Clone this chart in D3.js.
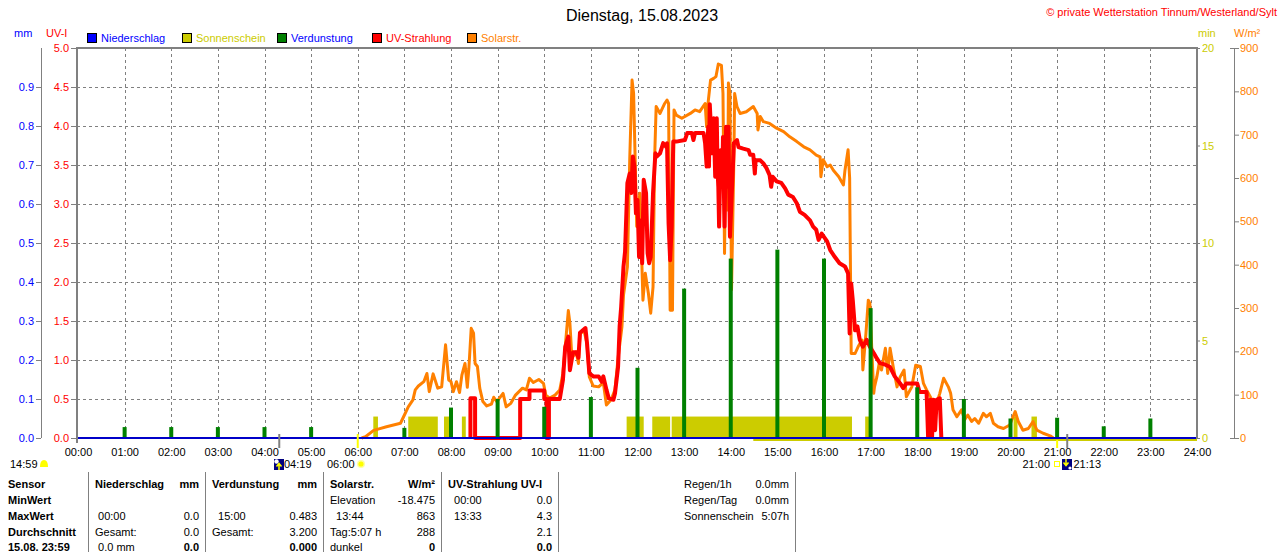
<!DOCTYPE html>
<html>
<head>
<meta charset="utf-8">
<script src="https://cdn.jsdelivr.net/npm/d3@7"></script>
<style>
  body { margin: 0; background: #fff; }
  svg text { font-family: "Liberation Sans", Arial, sans-serif; font-size: 11px; }
</style>
</head>
<body>
<svg id="chart" width="1280" height="552"></svg>
<script>
/* ---- data ---- */
const hourLabels = d3.range(0, 25).map((h) => String(h).padStart(2, "0") + ":00");
const uvTicks = [0, 0.5, 1, 1.5, 2, 2.5, 3, 3.5, 4, 4.5, 5];
const mmTicks = [0, 0.1, 0.2, 0.3, 0.4, 0.5, 0.6, 0.7, 0.8, 0.9];
const minTicks = [0, 5, 10, 15, 20];
const wTicks = [0, 100, 200, 300, 400, 500, 600, 700, 800, 900];

const legendLabels = ["Niederschlag", "Sonnenschein", "Verdunstung", "UV-Strahlung", "Solarstr."];
const legendColors = ["#0000ff", "#cccc00", "#008000", "#ff0000", "#ff8000"];
const legendTextColors = ["#0000ff", "#cccc00", "#0000ff", "#ff0000", "#ff8000"];

// Solarstrahlung W/m²
const solarTimes = ["06:05","06:10","06:20","06:25","06:37","06:55","06:59","07:05","07:11","07:14","07:18","07:25","07:29","07:32","07:37","07:43","07:48","07:53","07:57","08:00","08:03","08:07","08:11","08:14","08:18","08:21","08:23","08:26","08:29","08:31","08:34","08:37","08:41","08:46","08:52","08:55","08:59","09:07","09:11","09:17","09:23","09:32","09:37","09:41","09:46","09:53","09:59","10:02","10:07","10:14","10:20","10:24","10:27","10:31","10:33","10:35","10:37","10:41","10:44","10:46","10:51","10:55","10:58","11:03","11:10","11:16","11:20","11:26","11:31","11:35","11:40","11:42","11:47","11:50","11:53","11:55","11:57","11:59","12:03","12:07","12:10","12:14","12:17","12:20","12:22","12:24","12:29","12:35","12:38","12:40","12:42","12:45","12:47","12:50","12:57","13:08","13:14","13:20","13:27","13:29","13:31","13:34","13:38","13:41","13:44","13:48","13:50","13:52","13:54","13:56","13:57","13:59","14:01","14:04","14:05","14:08","14:12","14:20","14:29","14:34","14:35","14:38","14:42","14:50","14:59","15:08","15:16","15:25","15:34","15:42","15:50","15:55","15:56","15:59","16:04","16:08","16:12","16:19","16:25","16:27","16:31","16:33","16:34","16:35","16:40","16:44","16:49","16:50","16:54","16:57","16:59","17:01","17:04","17:05","17:08","17:11","17:14","17:19","17:22","17:25","17:29","17:34","17:38","17:43","17:46","17:53","17:58","18:04","18:08","18:12","18:19","18:25","18:29","18:34","18:40","18:43","18:46","18:51","18:57","19:01","19:05","19:10","19:14","19:19","19:25","19:29","19:34","19:38","19:44","19:51","19:59","20:06","20:10","20:16","20:23","20:29","20:34","20:42","20:51","20:55"];
const solarValues = [0,3,17,20,26,34,49,72,88,111,120,130,149,107,148,115,118,215,134,130,107,130,105,145,172,117,161,253,242,172,165,115,84,74,78,94,84,103,72,80,99,115,111,138,128,135,126,99,92,99,111,149,211,294,265,203,188,199,172,240,249,218,141,120,118,128,76,88,111,184,257,330,395,642,826,795,642,488,565,318,380,334,288,349,642,765,749,772,780,772,295,295,757,745,738,749,757,753,772,718,776,826,830,834,863,860,795,426,718,526,819,795,342,642,795,765,749,753,765,749,711,742,730,726,715,707,695,684,672,665,653,649,603,642,626,630,618,603,584,618,665,600,400,195,195,211,226,157,242,318,311,226,103,118,141,172,157,207,149,207,165,118,141,157,95,118,168,165,126,111,88,80,103,138,118,103,65,49,65,42,53,38,45,34,57,49,57,34,26,22,30,61,38,18,22,38,18,11,5,0];

// UV-Strahlung UV-I
const uvTimes = ["08:25","08:25","08:31","08:31","09:29","09:29","09:41","09:41","10:00","10:00","10:03","10:03","10:06","10:06","10:20","10:24","10:27","10:31","10:33","10:37","10:41","10:44","10:46","10:53","10:55","10:58","11:03","11:10","11:14","11:16","11:20","11:23","11:29","11:31","11:35","11:37","11:39","11:42","11:44","11:47","11:50","11:52","11:54","11:56","11:58","12:00","12:02","12:04","12:06","12:08","12:11","12:13","12:15","12:17","12:20","12:23","12:25","12:29","12:33","12:37","12:38","12:40","12:42","12:44","12:46","12:50","13:01","13:04","13:10","13:12","13:14","13:25","13:27","13:29","13:31","13:32","13:33","13:36","13:38","13:40","13:42","13:43","13:44","13:45","13:47","13:49","13:50","13:52","13:54","13:56","13:57","13:59","14:01","14:04","14:06","14:08","14:10","14:16","14:23","14:25","14:29","14:31","14:32","14:38","14:42","14:46","14:50","14:52","14:54","14:59","15:05","15:10","15:14","15:20","15:25","15:29","15:35","15:42","15:46","15:50","15:53","15:57","16:04","16:08","16:14","16:20","16:27","16:31","16:33","16:35","16:37","16:40","16:43","16:46","16:50","16:55","16:59","17:04","17:08","17:12","17:19","17:25","17:31","17:38","17:42","17:46","18:00","18:03","18:12","18:14","18:17","18:19","18:21","18:23","18:25","18:29","18:31"];
const uvValues = [0,0.51,0.51,0,0,0.5,0.5,0.61,0.61,0.5,0.5,0,0,0.5,0.5,0.74,1.17,1.3,0.87,1.1,1.1,1.03,1.35,1.41,1.22,0.83,0.79,0.79,0.72,0.79,0.62,0.51,0.49,0.57,0.91,1.43,1.68,2.2,2.39,3.27,3.39,3.14,3.61,3.48,2.88,3.05,2.32,2.79,2.24,3.31,3.14,2.37,2.24,2.32,3.14,3.65,3.61,3.65,3.78,3.73,3.78,2.75,2.28,2.71,3.8,3.8,3.82,3.91,3.91,3.82,3.91,3.91,3.78,3.48,3.99,3.48,4.28,3.65,4.1,3.35,4.1,3.44,3.22,2.71,3.69,3.22,3.86,2.71,3.99,3.22,3.99,2.58,3.05,3.78,3.8,3.82,3.73,3.71,3.69,3.63,3.63,3.39,3.56,3.56,3.52,3.46,3.37,3.22,3.35,3.29,3.27,3.2,3.12,3.09,3.01,2.9,2.86,2.79,2.71,2.67,2.54,2.62,2.52,2.41,2.32,2.24,2.2,2.11,1.34,1.98,1.77,1.38,1.43,1.26,1.17,1.26,1.17,1.09,1.02,0.96,0.94,0.91,0.79,0.7,0.64,0.7,0.7,0.59,0.59,0,0.49,0,0.49,0.1,0.49,0.51,0];

// Verdunstung mm (hourly)
const evapHours = [1,2,3,4,5,6,7,8,9,10,11,12,13,14,15,16,17,18,19,20,21,22,23];
const evapValues = [0.028,0.028,0.028,0.028,0.028,0,0.026,0.078,0.1,0.08,0.105,0.18,0.383,0.46,0.483,0.46,0.333,0.13,0.1,0.05,0.052,0.03,0.05];

// Niederschlag mm (hourly)
const rainHours = d3.range(0, 25);
const rainValues = d3.range(0, 25).map(() => 0);

// Sonnenschein min
const sunFrom = ["06:20","07:05","07:51","08:14","11:46","12:19","12:44","16:53","20:04","20:27"];
const sunTo   = ["06:26","07:43","07:58","08:19","12:08","12:42","16:36","16:58","20:09","20:34"];
const sunMinutes = [1.1,1.1,1.1,1.1,1.1,1.1,1.1,1.1,1.1,1.1];
const sunLineFrom = "14:29";

// Sonnen-/Mondauf- und untergang
const astroTimes = ["04:19", "06:00", "21:00", "21:13"];
const astroColors = ["#808080", "#ffff00", "#ffff00", "#808080"];

// Tabelle
const tableRowLabels = ["Sensor", "MinWert", "MaxWert", "Durchschnitt", "15.08. 23:59"];
const tableHeads = ["Niederschlag", "Verdunstung", "Solarstr.", "UV-Strahlung UV-I"];
const tableUnits = ["mm", "mm", "W/m²", ""];
const tableLeft = [
  ["", " 00:00", "Gesamt:", " 0.0 mm"],
  ["", "  15:00", "Gesamt:", ""],
  ["Elevation", "  13:44", "Tag:5:07 h", "dunkel"],
  ["  00:00", "  13:33", "", ""]
];
const tableRight = [
  ["", "0.0", "0.0", "0.0"],
  ["", "0.483", "3.200", "0.000"],
  ["-18.475", "863", "288", "0"],
  ["0.0", "4.3", "2.1", "0.0"]
];
const infoLabels = ["Regen/1h", "Regen/Tag", "Sonnenschein"];
const infoValues = ["0.0mm", "0.0mm", "5:07h"];

/* ---- setup ---- */
const parseT = (s) => { const [h, m] = s.split(":").map(Number); return h + m / 60; };
const margin = { top: 48, left: 77, right: 83, bottom: 114 };
const width = 1280, height = 552;
const plotTop = margin.top, plotBottom = height - margin.bottom;
const plotLeft = margin.left, plotRight = width - margin.right;

const svg = d3.select("#chart");

const x = d3.scaleLinear().domain([0, 24]).range([plotLeft + 1, plotRight]);
const yUV = d3.scaleLinear().domain([0, 5]).range([plotBottom, plotTop]);
const yMM = d3.scaleLinear().domain([0, 1]).range([plotBottom, plotTop]);
const yMin = d3.scaleLinear().domain([0, 20]).range([plotBottom, plotTop]);
const yW = d3.scaleLinear().domain([0, 900]).range([plotBottom, plotTop]);

const grey = "#808080";

/* grid */
const grid = svg.append("g").attr("stroke", grey).attr("stroke-dasharray", "3,3").attr("shape-rendering", "crispEdges");
grid.selectAll(".h").data(uvTicks.slice(1, -1)).enter().append("line")
  .attr("x1", plotLeft).attr("x2", plotRight)
  .attr("y1", (d) => Math.round(yUV(d)) + 0.5).attr("y2", (d) => Math.round(yUV(d)) + 0.5);
grid.selectAll(".v").data(d3.range(1, 24)).enter().append("line")
  .attr("x1", (d) => Math.round(x(d)) + 0.5).attr("x2", (d) => Math.round(x(d)) + 0.5)
  .attr("y1", plotTop).attr("y2", plotBottom);

/* Sonnenschein */
svg.append("g").selectAll("rect").data(sunFrom).enter().append("rect")
  .attr("x", (d) => x(parseT(d)))
  .attr("width", (d, i) => x(parseT(sunTo[i])) - x(parseT(d)))
  .attr("y", (d, i) => yMin(sunMinutes[i]))
  .attr("height", (d, i) => yMin(0) - yMin(sunMinutes[i]))
  .attr("fill", "#cccc00");

/* Solarstrahlung */
const solarData = solarTimes.map((t, i) => ({ t: parseT(t), v: solarValues[i] }));
svg.append("path").datum(solarData)
  .attr("fill", "none").attr("stroke", "#ff8000").attr("stroke-width", 3).attr("stroke-linejoin", "round")
  .attr("d", d3.line().x((d) => x(d.t)).y((d) => yW(d.v)));

/* UV */
const uvData = uvTimes.map((t, i) => ({ t: parseT(t), v: uvValues[i] }));
svg.append("path").datum(uvData)
  .attr("fill", "none").attr("stroke", "#ff0000").attr("stroke-width", 4).attr("stroke-linejoin", "round")
  .attr("d", d3.line().x((d) => x(d.t)).y((d) => yUV(d.v)));

/* Verdunstung */
svg.append("g").selectAll("rect").data(evapHours).enter().append("rect")
  .attr("x", (d) => x(d) - 2)
  .attr("width", 4)
  .attr("y", (d, i) => yMM(evapValues[i]))
  .attr("height", (d, i) => yMM(0) - yMM(evapValues[i]))
  .attr("fill", "#008000");

/* yellow line under baseline */
svg.append("line")
  .attr("x1", x(parseT(sunLineFrom))).attr("x2", x(24))
  .attr("y1", yMin(0) + 2).attr("y2", yMin(0) + 2)
  .attr("stroke", "#cccc00").attr("stroke-width", 2);

/* Niederschlag baseline */
const rainData = rainHours.map((h, i) => ({ t: h, v: rainValues[i] }));
svg.append("path").datum(rainData)
  .attr("fill", "none").attr("stroke", "#0000c8").attr("stroke-width", 2)
  .attr("d", d3.line().x((d) => x(d.t)).y((d) => yMM(d.v)));

/* frame */
svg.append("path")
  .attr("d", `M${plotLeft},${plotBottom + 5}V${plotTop}H${plotRight}V${plotBottom + 1}`)
  .attr("fill", "none").attr("stroke", grey).attr("stroke-width", 2);

/* axes */
function styleAxis(g, color) {
  g.selectAll("line").attr("stroke", grey);
  g.selectAll("path").attr("stroke", grey);
  g.selectAll("text").attr("fill", color).style("font-size", "11px");
}
svg.append("g").attr("transform", `translate(${plotLeft},0)`)
  .call(d3.axisLeft(yUV).tickValues(uvTicks).tickFormat(d3.format(".1f")).tickSize(6).tickPadding(2))
  .call((g) => g.select(".domain").remove())
  .call((g) => styleAxis(g, "#ff0000"));
svg.append("g").attr("transform", "translate(41,0)")
  .call(d3.axisLeft(yMM).tickValues(mmTicks).tickFormat(d3.format(".1f")).tickSize(5).tickSizeOuter(0).tickPadding(2))
  .call((g) => g.select(".domain").attr("d", `M0.5,${yMM(0)}V${yMM(1)}`))
  .call((g) => styleAxis(g, "#0000ff"));
svg.append("g").attr("transform", `translate(${plotRight},0)`)
  .call(d3.axisRight(yMin).tickValues(minTicks).tickSize(3).tickPadding(2))
  .call((g) => g.select(".domain").remove())
  .call((g) => styleAxis(g, "#cccc00"));
svg.append("g").attr("transform", "translate(1234,0)")
  .call(d3.axisRight(yW).tickValues(wTicks).tickSize(5).tickSizeOuter(0).tickPadding(1))
  .call((g) => g.select(".domain").attr("d", `M0.5,${yW(0)}V${yW(900)}`))
  .call((g) => styleAxis(g, "#ff8000"));
svg.append("g").selectAll("line").data([0, 900]).enter().append("line")
  .attr("x1", 1230).attr("x2", 1234).attr("y1", (d) => yW(d) + 0.5).attr("y2", (d) => yW(d) + 0.5)
  .attr("stroke", grey);
svg.append("g").attr("transform", `translate(0,${plotBottom})`)
  .call(d3.axisBottom(x).tickValues(d3.range(0, 25)).tickFormat((d) => hourLabels[d]).tickSize(0).tickPadding(10))
  .call((g) => g.select(".domain").remove())
  .call((g) => styleAxis(g, "#000"));

/* axis units */
const unit = (tx, ty, txt, color, anchor) => svg.append("text").attr("x", tx).attr("y", ty)
  .attr("text-anchor", anchor || "start").attr("fill", color).text(txt);
unit(14, 37, "mm", "#0000ff");
unit(46, 37, "UV-I", "#ff0000");
unit(1198, 37, "min", "#cccc00");
unit(1234, 37, "W/m²", "#ff8000");

/* title */
svg.append("text").attr("x", 642).attr("y", 21).attr("text-anchor", "middle")
  .style("font-size", "16px").attr("fill", "#000").text("Dienstag, 15.08.2023");
svg.append("text").attr("x", 1277).attr("y", 16).attr("text-anchor", "end")
  .attr("fill", "#ff0000").text("© private Wetterstation Tinnum/Westerland/Sylt");

/* legend */
const legend = svg.append("g").selectAll("g").data(legendLabels).enter().append("g")
  .attr("transform", (d, i) => `translate(${87 + i * 95},33)`);
legend.append("rect").attr("x", 0.5).attr("y", 0.5).attr("width", 9).attr("height", 9)
  .attr("fill", (d, i) => legendColors[i]).attr("stroke", "#000");
legend.append("text").attr("x", 14).attr("y", 9).attr("fill", (d, i) => legendTextColors[i]).text((d) => d);

/* astro markers */
svg.append("g").selectAll("line").data(astroTimes).enter().append("line")
  .attr("x1", (d) => x(parseT(d))).attr("x2", (d) => x(parseT(d)))
  .attr("y1", (d, i) => (i === 2 ? 440 : 434)).attr("y2", 448)
  .attr("stroke", (d, i) => astroColors[i]).attr("stroke-width", 2);

const astro = svg.append("g");
astro.append("text").attr("x", 10).attr("y", 468).text("14:59");
astro.append("path").attr("d", "M40,467 Q40,460 44,460 Q48,460 48,467 Z").attr("fill", "#ffff00");
// moonrise
astro.append("rect").attr("x", 274).attr("y", 459).attr("width", 10).attr("height", 11).attr("fill", "#000080");
astro.append("circle").attr("cx", 276.5).attr("cy", 461.5).attr("r", 2.2).attr("fill", "#fff");
astro.append("path").attr("d", "M279,470V464M276.5,466.5L279,463.5L281.5,466.5").attr("stroke", "#ffff00").attr("stroke-width", 1.5).attr("fill", "none");
astro.append("text").attr("x", 284).attr("y", 468).text(astroTimes[0]);
astro.append("text").attr("x", 327).attr("y", 468).text(astroTimes[1]);
astro.append("circle").attr("cx", 361).attr("cy", 464).attr("r", 4).attr("fill", "#ffffa0");
astro.append("circle").attr("cx", 361).attr("cy", 464).attr("r", 2.6).attr("fill", "#ffff00");
astro.append("text").attr("x", 1050).attr("y", 468).attr("text-anchor", "end").text(astroTimes[2]);
astro.append("rect").attr("x", 1054.5).attr("y", 461.5).attr("width", 5).attr("height", 5).attr("fill", "none").attr("stroke", "#ffff00");
// moonset
astro.append("rect").attr("x", 1062).attr("y", 459).attr("width", 10).attr("height", 11).attr("fill", "#000080");
astro.append("path").attr("d", "M1066,459V465M1063.5,462.5L1066,465.5L1068.5,462.5").attr("stroke", "#ffff00").attr("stroke-width", 1.5).attr("fill", "none");
astro.append("circle").attr("cx", 1070).attr("cy", 468).attr("r", 1.6).attr("fill", "#fff");
astro.append("text").attr("x", 1073.5).attr("y", 468).text(astroTimes[3]);

/* table */
const rowY = [488, 504, 520, 536, 551];
const sepX = [88, 205, 323, 441, 558];
const table = svg.append("g");
table.selectAll("line").data(sepX.concat([795])).enter().append("line")
  .attr("x1", (d) => d + 0.5).attr("x2", (d) => d + 0.5).attr("y1", 472).attr("y2", 552)
  .attr("stroke", grey);
table.selectAll(".rl").data(tableRowLabels).enter().append("text")
  .attr("x", 8).attr("y", (d, i) => rowY[i]).style("font-weight", "bold").text((d) => d);
tableHeads.forEach((head, c) => {
  const x0 = sepX[c] + 7, x1 = sepX[c + 1] - 6;
  table.append("text").attr("x", x0).attr("y", rowY[0]).style("font-weight", "bold").text(head);
  table.append("text").attr("x", x1).attr("y", rowY[0]).attr("text-anchor", "end").style("font-weight", "bold").text(tableUnits[c]);
  tableLeft[c].forEach((txt, r) => {
    table.append("text").attr("x", x0).attr("y", rowY[r + 1]).attr("xml:space", "preserve").text(txt);
  });
  tableRight[c].forEach((txt, r) => {
    table.append("text").attr("x", x1).attr("y", rowY[r + 1]).attr("text-anchor", "end")
      .style("font-weight", r === 3 ? "bold" : "normal").text(txt);
  });
});
infoLabels.forEach((lab, i) => {
  table.append("text").attr("x", 684).attr("y", rowY[i]).text(lab);
  table.append("text").attr("x", 789).attr("y", rowY[i]).attr("text-anchor", "end").text(infoValues[i]);
});
</script>
</body>
</html>
